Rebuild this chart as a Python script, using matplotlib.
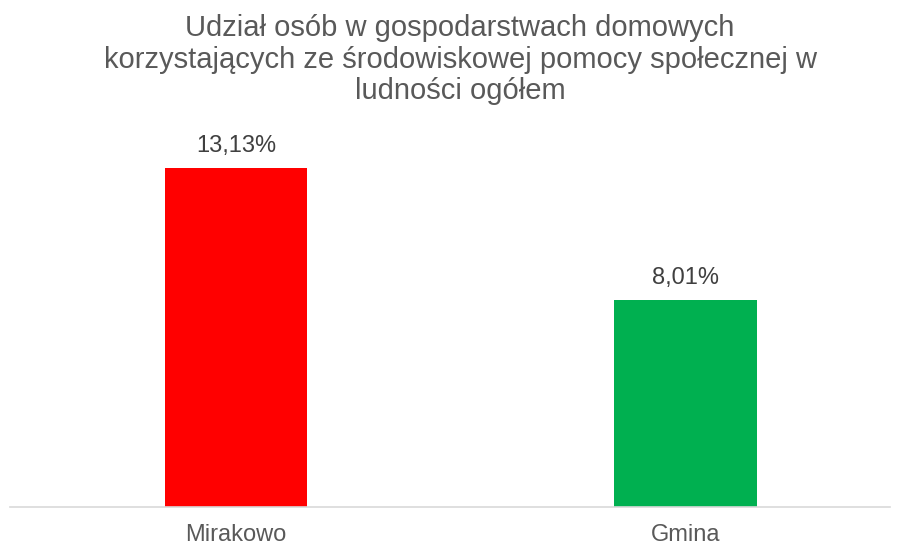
import matplotlib.pyplot as plt

plt.rcParams['font.family'] = ['Liberation Sans', 'DejaVu Sans']

categories = ['Mirakowo', 'Gmina']
values = [13.13, 8.01]
labels = ['13,13%', '8,01%']
colors = ['#FF0000', '#00B050']

fig = plt.figure(figsize=(8.97, 5.44), dpi=100)
ax = fig.add_axes([10 / 897, 1 - 507 / 544, 880 / 897, (507 - 146) / 544])

x = [0, 1]
bars = ax.bar(x, values, width=0.316, color=colors, zorder=2)
for xi, v, lab in zip(x, values, labels):
    ax.annotate(lab, (xi, v), xytext=(0, 8), textcoords='offset points',
                ha='center', va='bottom', fontsize=17, color='#404040')

ax.set_xlim(-0.503, 1.455)
ax.set_ylim(0, 14)
ax.set_yticks([])
ax.set_xticks(x)
ax.set_xticklabels(categories, fontsize=17, color='#595959')
ax.tick_params(axis='x', length=0, pad=12)
for s in ['top', 'right', 'left']:
    ax.spines[s].set_visible(False)
ax.spines['bottom'].set_color('#D9D9D9')
ax.spines['bottom'].set_linewidth(1.2)

fig.text(460 / 897, 1 - 14 / 544,
         'Udział osób w gospodarstwach domowych\n'
         'korzystających ze środowiskowej pomocy społecznej w\n'
         'ludności ogółem',
         ha='center', va='top', fontsize=21, color='#595959', linespacing=1.17)

fig.savefig('out.png', dpi=100)
